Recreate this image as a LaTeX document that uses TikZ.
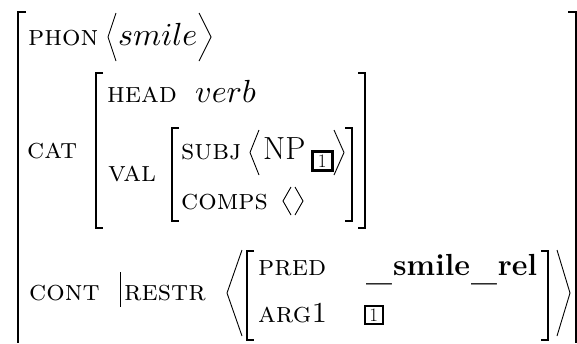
\documentclass[tikz,border=0pt]{standalone}
\DeclareFontShape{OML}{cmm}{m}{it}{<->cmmi10}{}
\usetikzlibrary{calc}
\begin{document}
\begin{tikzpicture}[x=1pt,y=-1pt,
  feat/.style={anchor=base west, inner sep=0pt, font=\fontsize{29}{36}\selectfont\scshape},
  val/.style={anchor=base west, inner sep=0pt, font=\fontsize{32}{38}\selectfont},
  brk/.style={line width=1.5pt},
  ang/.style={line width=0.9pt, line join=miter},
  tagbox/.style={draw, anchor=south west, inner sep=0pt, font=\fontsize{19}{19}\selectfont}]
\useasboundingbox (0,0) rectangle (577,343);

% outer feature structure
\draw[brk] (26,12) -- (18,12) -- (18,343);
\draw[brk] (568,12) -- (576,12) -- (576,343);

% PHON
\node[feat] (phon) at (28,45) {phon};
\draw[ang] (116,13) -- (108,37) -- (116,61);
\node[val] (smile) at (118,45) {$smile$};
\draw[ang] (199,13) -- (211,37) -- (199,61);

% CAT
\node[feat] (cat) at (27,158) {cat};
\draw[brk] (103,73) -- (96,73) -- (96,228) -- (103,228);
\draw[brk] (358,73) -- (365,73) -- (365,228) -- (358,228);
\node[feat] (head) at (107,102) {head};
\node[val] (verb) at (195,102) {$verb$};
\node[feat] (valf) at (108,181) {val};
\draw[brk] (179,128) -- (172,128) -- (172,221) -- (179,221);
\draw[brk] (345,128) -- (352,128) -- (352,221) -- (345,221);
\node[feat] (subj) at (181,159) {subj};
\draw[ang] (259,130) -- (250,152.5) -- (259,175);
\node[val] (np) at (263,159) {NP};
\node[tagbox, line width=2.6pt, minimum width=20pt, minimum height=19pt] (tagA) at (311,172) {1};
\draw[ang] (334,130) -- (344,152.5) -- (334,175);
\node[feat] (comps) at (181,209) {comps};
\draw[ang] (291,187) -- (283,201) -- (291,215);
\draw[ang] (295,187) -- (303,201) -- (295,215);

% CONT
\node[feat] (cont) at (29,300) {cont};
\draw[line width=0.8pt] (120,272) -- (120,307);
\node[feat] (restr) at (124,300) {restr};
\draw[ang] (242,250) -- (227,293) -- (242,336);
\draw[brk] (254,251) -- (247,251) -- (247,340) -- (254,340);
\node[feat] (pred) at (258,275) {pred};
\node[val, font=\fontsize{30.5}{38}\selectfont\bfseries] (rel) at (366,275)
  {\raisebox{-5pt}{\_}\kern1pt smile\kern1pt\raisebox{-5pt}{\_}\kern1pt rel};
\node[feat] (arg) at (258,322) {arg1};
\node[tagbox, line width=1.6pt, minimum width=18pt, minimum height=18pt] (tagB) at (364,325) {1};
\draw[brk] (541,251) -- (548,251) -- (548,340) -- (541,340);
\draw[ang] (557,250) -- (570,293) -- (557,336);
\end{tikzpicture}
\end{document}
